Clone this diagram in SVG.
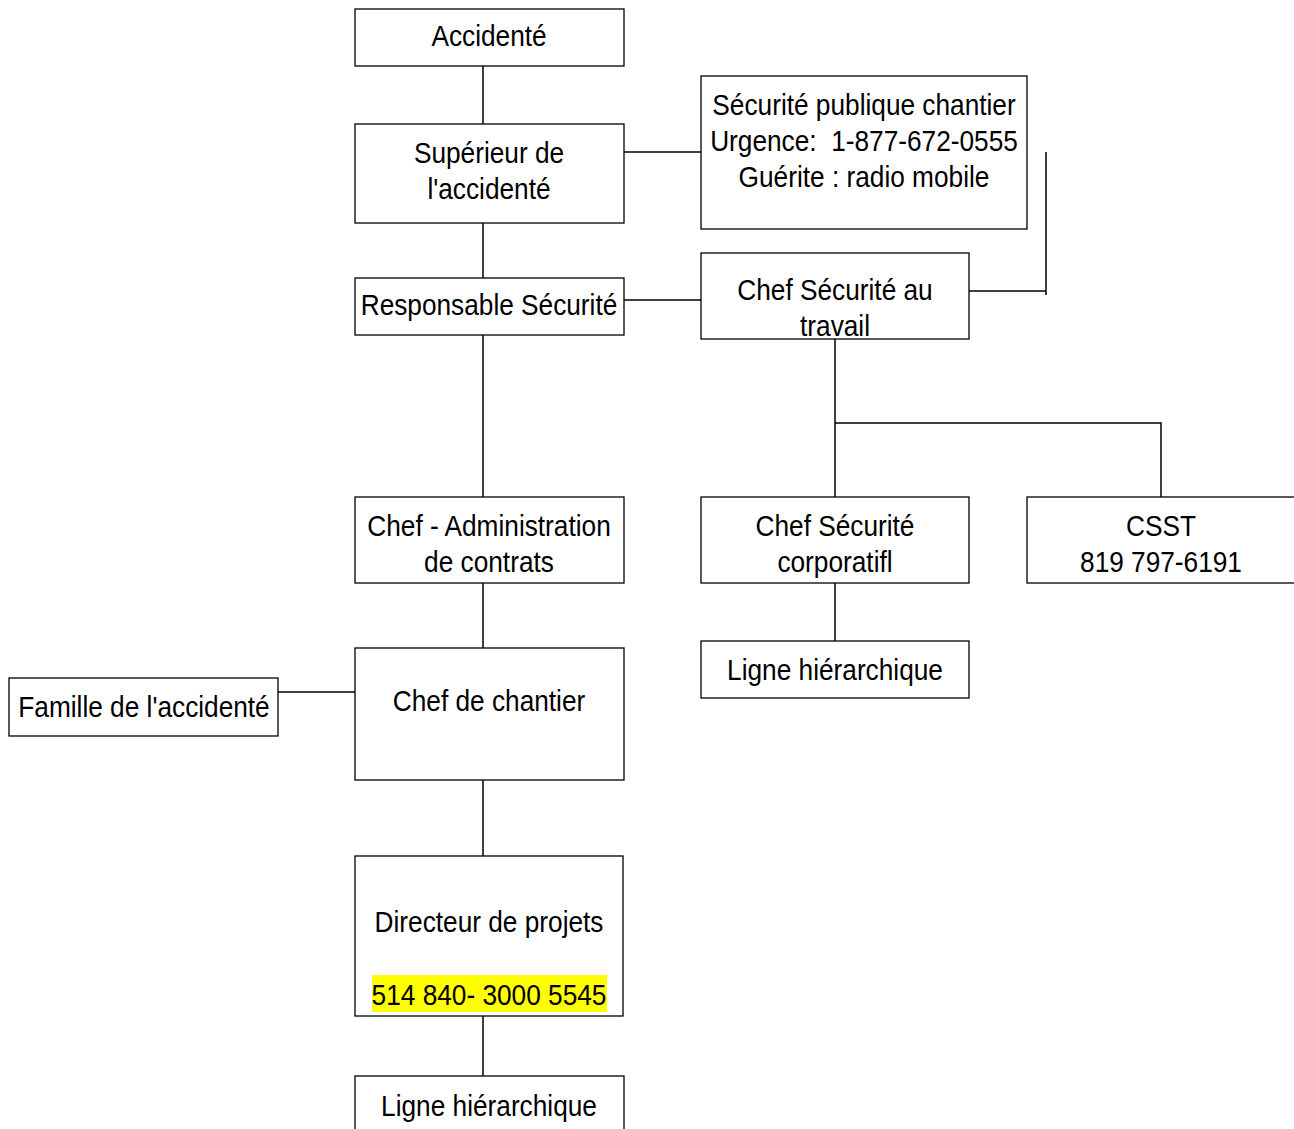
<svg xmlns="http://www.w3.org/2000/svg" width="1294" height="1129" viewBox="0 0 1294 1129">
<style>
.box{fill:#fff;stroke:#000;stroke-width:1.3}
.t{font-family:"Liberation Sans",Arial,sans-serif;font-size:29px;fill:#000;text-anchor:middle}
.c{stroke:#000;stroke-width:1.5;fill:none}
</style>
<rect width="1294" height="1129" fill="#fff"/>
<g id="connectors">
<line class="c" x1="483" y1="66" x2="483" y2="124"/>
<line class="c" x1="483" y1="223" x2="483" y2="278"/>
<line class="c" x1="483" y1="335" x2="483" y2="497"/>
<line class="c" x1="483" y1="583" x2="483" y2="648"/>
<line class="c" x1="483" y1="780" x2="483" y2="856"/>
<line class="c" x1="483" y1="1016" x2="483" y2="1076"/>
<line class="c" x1="624" y1="152" x2="701" y2="152"/>
<line class="c" x1="624" y1="300" x2="701" y2="300"/>
<polyline class="c" points="969,291 1046,291"/>
<line class="c" x1="1046" y1="152" x2="1046" y2="295"/>
<line class="c" x1="835" y1="339" x2="835" y2="497"/>
<polyline class="c" points="835,423 1161,423 1161,497"/>
<line class="c" x1="835" y1="583" x2="835" y2="645"/>
<line class="c" x1="278" y1="692" x2="355" y2="692"/>
</g>
<g id="accidente"><rect class="box" x="355" y="9" width="269" height="57"/><text class="t" transform="translate(489,46) scale(0.905,1)">Accidenté</text></g>
<g id="superieur"><rect class="box" x="355" y="124" width="269" height="99"/><text class="t" transform="translate(489,163) scale(0.905,1)">Supérieur de</text><text class="t" transform="translate(489,199) scale(0.905,1)">l'accidenté</text></g>
<g id="securite-publique"><rect class="box" x="701" y="76" width="326" height="153"/><text class="t" transform="translate(864,115) scale(0.905,1)">Sécurité publique chantier</text><text class="t" transform="translate(864,151) scale(0.905,1)" xml:space="preserve">Urgence:  1-877-672-0555</text><text class="t" transform="translate(864,187) scale(0.905,1)">Guérite : radio mobile</text></g>
<g id="responsable"><rect class="box" x="355" y="278" width="269" height="57"/><text class="t" transform="translate(489,315) scale(0.905,1)">Responsable Sécurité</text></g>
<g id="chef-securite-travail"><rect class="box" x="701" y="253" width="268" height="86"/><text class="t" transform="translate(835,300) scale(0.905,1)">Chef Sécurité au</text><text class="t" transform="translate(835,336) scale(0.905,1)">travail</text></g>
<g id="chef-admin"><rect class="box" x="355" y="497" width="269" height="86"/><text class="t" transform="translate(489,536) scale(0.905,1)">Chef - Administration</text><text class="t" transform="translate(489,572) scale(0.905,1)">de contrats</text></g>
<g id="chef-securite-corpo"><rect class="box" x="701" y="497" width="268" height="86"/><text class="t" transform="translate(835,536) scale(0.905,1)">Chef Sécurité</text><text class="t" transform="translate(835,572) scale(0.905,1)">corporatifl</text></g>
<g id="csst"><rect class="box" x="1027" y="497" width="280" height="86"/><text class="t" transform="translate(1161,536) scale(0.905,1)">CSST</text><text class="t" transform="translate(1161,572) scale(0.905,1)">819 797-6191</text></g>
<g id="ligne-droite"><rect class="box" x="701" y="641" width="268" height="57"/><text class="t" transform="translate(835,680) scale(0.905,1)">Ligne hiérarchique</text></g>
<g id="famille"><rect class="box" x="9" y="678" width="269" height="58"/><text class="t" transform="translate(144,717) scale(0.905,1)">Famille de l'accidenté</text></g>
<g id="chef-chantier"><rect class="box" x="355" y="648" width="269" height="132"/><text class="t" transform="translate(489,711) scale(0.905,1)">Chef de chantier</text></g>
<g id="directeur"><rect class="box" x="355" y="856" width="268" height="160"/><text class="t" transform="translate(489,932) scale(0.905,1)">Directeur de projets</text><rect x="372" y="975" width="235" height="37" fill="#ffff00"/><text class="t" transform="translate(489,1005) scale(0.905,1)">514 840- 3000 5545</text></g>
<g id="ligne-bas"><rect class="box" x="355" y="1076" width="269" height="60"/><text class="t" transform="translate(489,1116) scale(0.905,1)">Ligne hiérarchique</text></g>
</svg>
